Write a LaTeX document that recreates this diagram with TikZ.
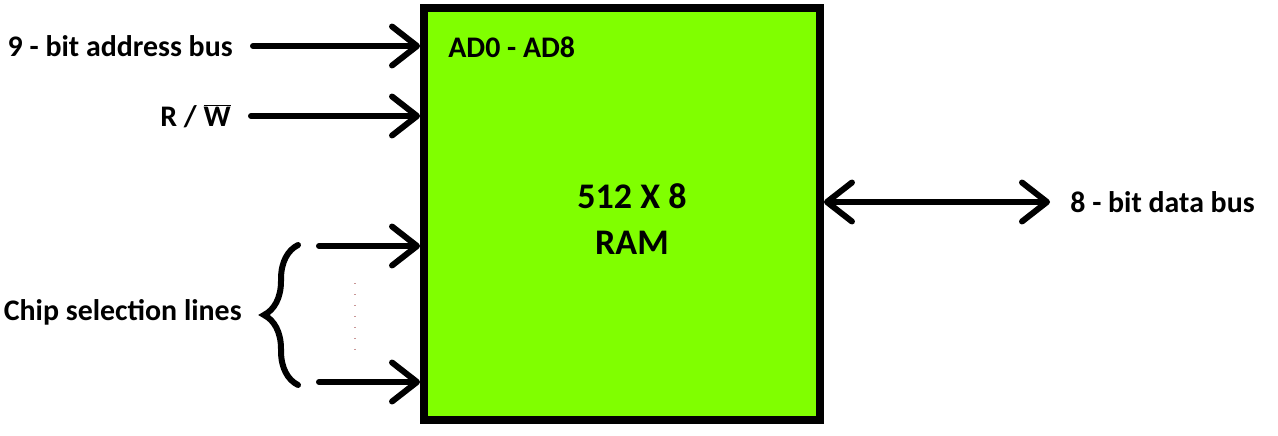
\documentclass[tikz,border=0pt]{standalone}
\usepackage{fontspec}
\setmainfont{Carlito}
\usepackage{xcolor}
\usepackage{tikz}
\usetikzlibrary{arrows.meta, positioning, decorations.pathreplacing}
\definecolor{ramgreen}{RGB}{128,255,0}
\definecolor{dotgrey}{RGB}{200,150,150}

\begin{document}
\begin{tikzpicture}[
    x=0.02cm, y=-0.02cm,
    >={Straight Barb[length=0.5cm, width=0.78cm, round]},
    ram/.style={rectangle, draw=black, line width=0.16cm, fill=ramgreen, minimum width=7.92cm, minimum height=8.24cm, inner sep=0pt},
    lbl/.style={font=\fontsize{17}{20}\selectfont\bfseries, inner xsep=0.4cm, inner ysep=0pt},
    biglbl/.style={font=\fontsize{20.5}{26}\selectfont\bfseries, align=center},
    bus/.style={draw=black, line width=0.12cm, line cap=round, ->},
    dots/.style={draw=dotgrey, line width=0.03cm, dash pattern=on 0.02cm off 0.2cm}
]
    \useasboundingbox (0,0) rectangle (1278,436);

    % The memory chip
    \node[ram] (RAM) at (622,214) {};
    \node[biglbl] (SIZE) at (632,219) {512 X 8\\RAM};
    \node[lbl, anchor=west, inner xsep=0pt] (AD) at (448,47) {AD0 - AD8};

    % Inputs on the left
    \node[lbl, anchor=east] (ADDR) at (253,46) {9 - bit address bus};
    \node[lbl, anchor=east] (RW) at (251,116) {R / $\overline{\mbox{W}}$};
    \draw[bus] (ADDR.east) -- (ADDR.east -| RAM.west);
    \draw[bus] (RW.east) -- (RW.east -| RAM.west);

    % Chip selection lines
    \coordinate (CS1) at (319,246);
    \coordinate (CSN) at (319,382);
    \draw[bus] (CS1) -- (CS1 -| RAM.west);
    \draw[bus] (CSN) -- (CSN -| RAM.west);
    \draw[dots] (355,283) -- (355,350);
    \coordinate (BRACE) at (262,315);
    \draw[line width=0.12cm, line cap=round, decorate, decoration={brace, amplitude=0.68cm}] (298,385) -- (298,245);
    \node[lbl, anchor=east] (CHIP) at (BRACE |- 0,312) {Chip selection lines};

    % Data bus on the right
    \node[lbl, anchor=west] (DATA) at (1050,202) {8 - bit data bus};
    \draw[bus, <->] (DATA.west -| RAM.east) -- (DATA.west);
\end{tikzpicture}
\end{document}
